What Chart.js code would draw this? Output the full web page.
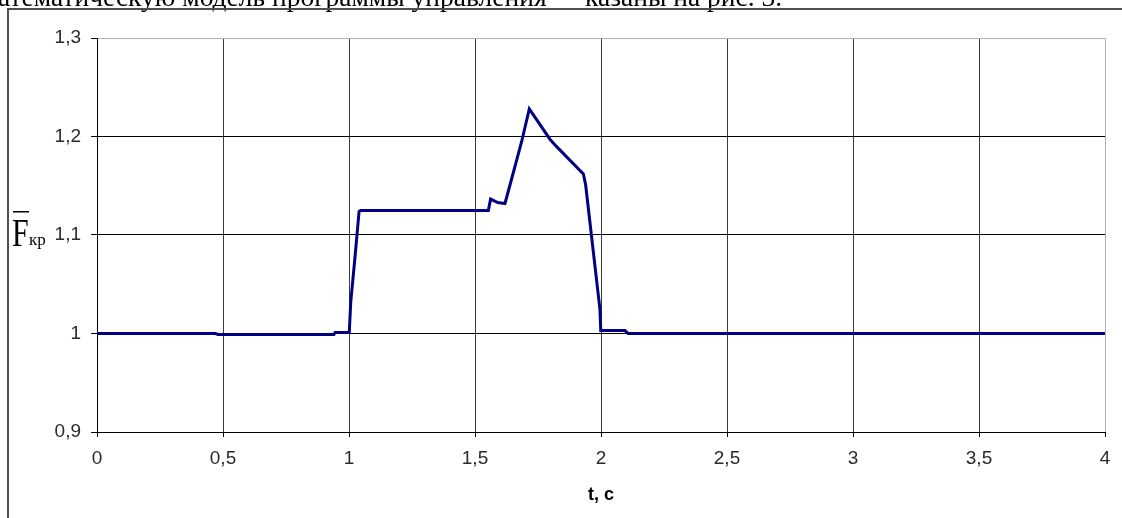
<!DOCTYPE html>
<html>
<head>
<meta charset="utf-8">
<script src="https://cdn.jsdelivr.net/npm/chart.js@4.4.0/dist/chart.umd.min.js"></script>
<style>
  html, body { margin: 0; padding: 0; background: #fff; }
</style>
</head>
<body>
<canvas id="force" width="1122" height="518"></canvas>
<script>
// t, c  and relative force F/Fкр
tValues = [0, 0.47, 0.48, 0.94, 0.945, 1.001, 1.007, 1.024, 1.040, 1.046,
           1.553, 1.562, 1.59, 1.619, 1.646, 1.685, 1.7155, 1.798, 1.824,
           1.930, 1.939, 1.996, 1.999, 2.095, 2.108, 4];
fValues = [1.0, 1.0, 0.999, 0.999, 1.001, 1.001, 1.032, 1.078, 1.124, 1.125,
           1.125, 1.1365, 1.133, 1.132, 1.1576, 1.1947, 1.228, 1.197, 1.1897,
           1.162, 1.151, 1.024, 1.003, 1.003, 1.0, 1.0];

xRange = [0, 4];
yRange = [0.9, 1.3];
xStep = 0.5;
yStep = 0.1;

axisTitleX = "t, c";
textLeft = "атематическую модель программы управления";
textRight = "казаны на рис. 3.";

const points = tValues.map((t, i) => ({ x: t, y: fValues[i] }));

function comma(v) {
     return String(Math.round(v * 100) / 100).replace(".", ",");
}

// page frame, cut-off line of text above and the F̄кр label
const decorations = {
     id: "decorations",
     afterDraw(chart) {
          const ctx = chart.ctx;
          ctx.save();

          ctx.fillStyle = "#000";
          ctx.font = '27.5px "Liberation Serif"';
          ctx.textBaseline = "alphabetic";
          ctx.fillText(textLeft, -2, 6);
          ctx.fillText(textRight, 585, 6);

          ctx.fillStyle = "#505050";
          ctx.fillRect(8, 8, 1114, 2);
          ctx.fillRect(7, 8, 2, 510);

          ctx.fillStyle = "#000";
          ctx.save();
          ctx.translate(12, 246);
          ctx.scale(1, 1.3);
          ctx.font = '30px "Liberation Serif"';
          ctx.fillText("F", 0, 0);
          ctx.restore();
          ctx.fillRect(13, 211, 16, 1.5);
          ctx.font = '17px "Liberation Serif"';
          ctx.fillText("кр", 29, 245);

          ctx.restore();
     }
};

new Chart("force", {
     type: "line",

     data: {
          datasets: [{
               data: points,
               fill: false,
               pointRadius: 0,
               borderColor: "#000080",
               borderWidth: 3,
               tension: 0
          }]
     },

     plugins: [decorations],

     options: {
          responsive: false,
          animation: false,
          devicePixelRatio: 1,
          layout: { padding: { left: 8, right: 17, top: 38, bottom: 0 } },
          plugins: {
               legend: { display: false },
               tooltip: { enabled: false }
          },
          scales: {
               x: {
                    type: "linear",
                    min: xRange[0],
                    max: xRange[1],
                    afterFit: s => { s.height = 86; },
                    ticks: {
                         stepSize: xStep,
                         maxRotation: 0,
                         padding: 10,
                         color: "#2a2a2a",
                         font: { family: "Liberation Sans", size: 19 },
                         callback: v => comma(v)
                    },
                    grid: {
                         color: c => (c.tick && c.tick.value === xRange[1]) ? "#b4b4b4" : "#3a3a3a",
                         tickColor: "#000",
                         tickLength: 5,
                         lineWidth: 1
                    },
                    border: { color: "#000", width: 1 },
                    title: {
                         display: true,
                         text: axisTitleX,
                         color: "#000",
                         font: { family: "Liberation Sans", size: 18, weight: "bold" },
                         padding: { top: 12, bottom: 12 }
                    }
               },
               y: {
                    min: yRange[0],
                    max: yRange[1],
                    afterFit: s => { s.width = 89; },
                    ticks: {
                         stepSize: yStep,
                         padding: 10,
                         color: "#2a2a2a",
                         font: { family: "Liberation Sans", size: 19 },
                         callback: v => comma(v)
                    },
                    grid: {
                         color: c => (c.tick && Math.abs(c.tick.value - yRange[1]) < 1e-6) ? "#b4b4b4" : "#000",
                         tickColor: "#000",
                         tickLength: 6,
                         lineWidth: 1
                    },
                    border: { color: "#000", width: 1 }
               }
          }
     }
});
</script>
</body>
</html>
